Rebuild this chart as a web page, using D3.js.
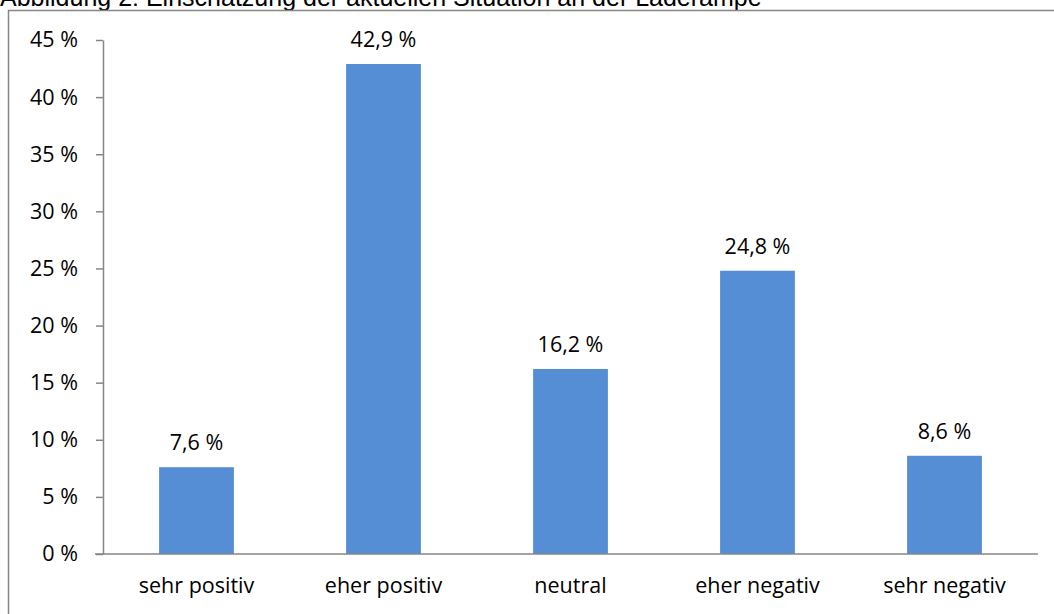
<!DOCTYPE html>
<html lang="de">
  <head>
    <meta charset="UTF-8" />
    <title>Abbildung 2</title>
    <style>
      body { margin: 0; background: #fff; }
      svg { display: block; }
    </style>
  </head>
  <body>
    <svg id="chart"></svg>
    <script src="https://cdnjs.cloudflare.com/ajax/libs/d3/7.8.5/d3.min.js"></script>
    <script>
      // Daten aus der Abbildung.
      const categories = ["sehr positiv", "eher positiv", "neutral", "eher negativ", "sehr negativ"];
      const values = [7.6, 42.9, 16.2, 24.8, 8.6];
      const yTicks = [0, 5, 10, 15, 20, 25, 30, 35, 40, 45];
      const title = "Abbildung 2: Einschätzung der aktuellen Situation an der Laderampe";

      const width = 1054,
        height = 614,
        margin = { left: 103, top: 40, right: 16, bottom: 60 };

      const svg = d3.select("#chart").attr("width", width).attr("height", height);
      const font = "'Open Sans', 'Noto Sans', sans-serif";
      const fs = 21.5;

      // Titel, oben abgeschnitten (wie im Original).
      svg.append("text")
        .attr("x", 0).attr("y", 6)
        .attr("font-family", "'Liberation Sans', Arial, sans-serif")
        .attr("font-size", 25)
        .attr("fill", "#000")
        .text(title);

      // Rahmen.
      svg.append("rect")
        .attr("x", 8.5).attr("y", 10.5)
        .attr("width", width + 20).attr("height", height + 20)
        .attr("fill", "#fff")
        .attr("stroke", "#868686")
        .attr("stroke-width", 1.5);

      const x = d3.scaleBand()
        .domain(categories)
        .range([margin.left, width - margin.right])
        .paddingInner(0.6)
        .paddingOuter(0.3);

      const y = d3.scaleLinear()
        .domain([0, 45])
        .range([height - margin.bottom, margin.top]);

      // Y-Achse.
      const yAxis = svg.append("g")
        .attr("transform", `translate(${margin.left},0)`)
        .call(d3.axisLeft(y).tickValues(yTicks).tickSize(7).tickSizeOuter(0).tickFormat((d) => d + " %"));
      yAxis.select(".domain").attr("stroke", "#868686").attr("stroke-width", 1.5);
      yAxis.selectAll(".tick line").attr("stroke", "#868686").attr("stroke-width", 1.5);
      yAxis.selectAll(".tick text")
        .attr("x", -25)
        .attr("font-family", font)
        .attr("font-size", fs)
        .attr("fill", "#000");

      // Balken.
      svg.append("g")
        .selectAll("rect")
        .data(values)
        .join("rect")
        .attr("x", (d, i) => x(categories[i]))
        .attr("y", (d) => y(d))
        .attr("width", x.bandwidth())
        .attr("height", (d) => y(0) - y(d))
        .attr("fill", "#558ed5");

      // Werte.
      svg.append("g")
        .selectAll("text")
        .data(values)
        .join("text")
        .attr("x", (d, i) => x(categories[i]) + x.bandwidth() / 2)
        .attr("y", (d) => y(d) - 17)
        .attr("text-anchor", "middle")
        .attr("font-family", font)
        .attr("font-size", fs)
        .attr("fill", "#000")
        .text((d) => d.toFixed(1).replace(".", ",") + " %");

      // X-Achse.
      const xAxis = svg.append("g")
        .attr("transform", `translate(0,${y(0)})`)
        .call(d3.axisBottom(x).tickSize(0).tickSizeOuter(0));
      xAxis.select(".domain")
        .attr("d", `M${margin.left - 8},0H${width - margin.right}`)
        .attr("stroke", "#868686").attr("stroke-width", 1.5);
      xAxis.selectAll(".tick text")
        .attr("y", 24)
        .attr("font-family", font)
        .attr("font-size", fs)
        .attr("fill", "#000");
    </script>
  </body>
</html>
